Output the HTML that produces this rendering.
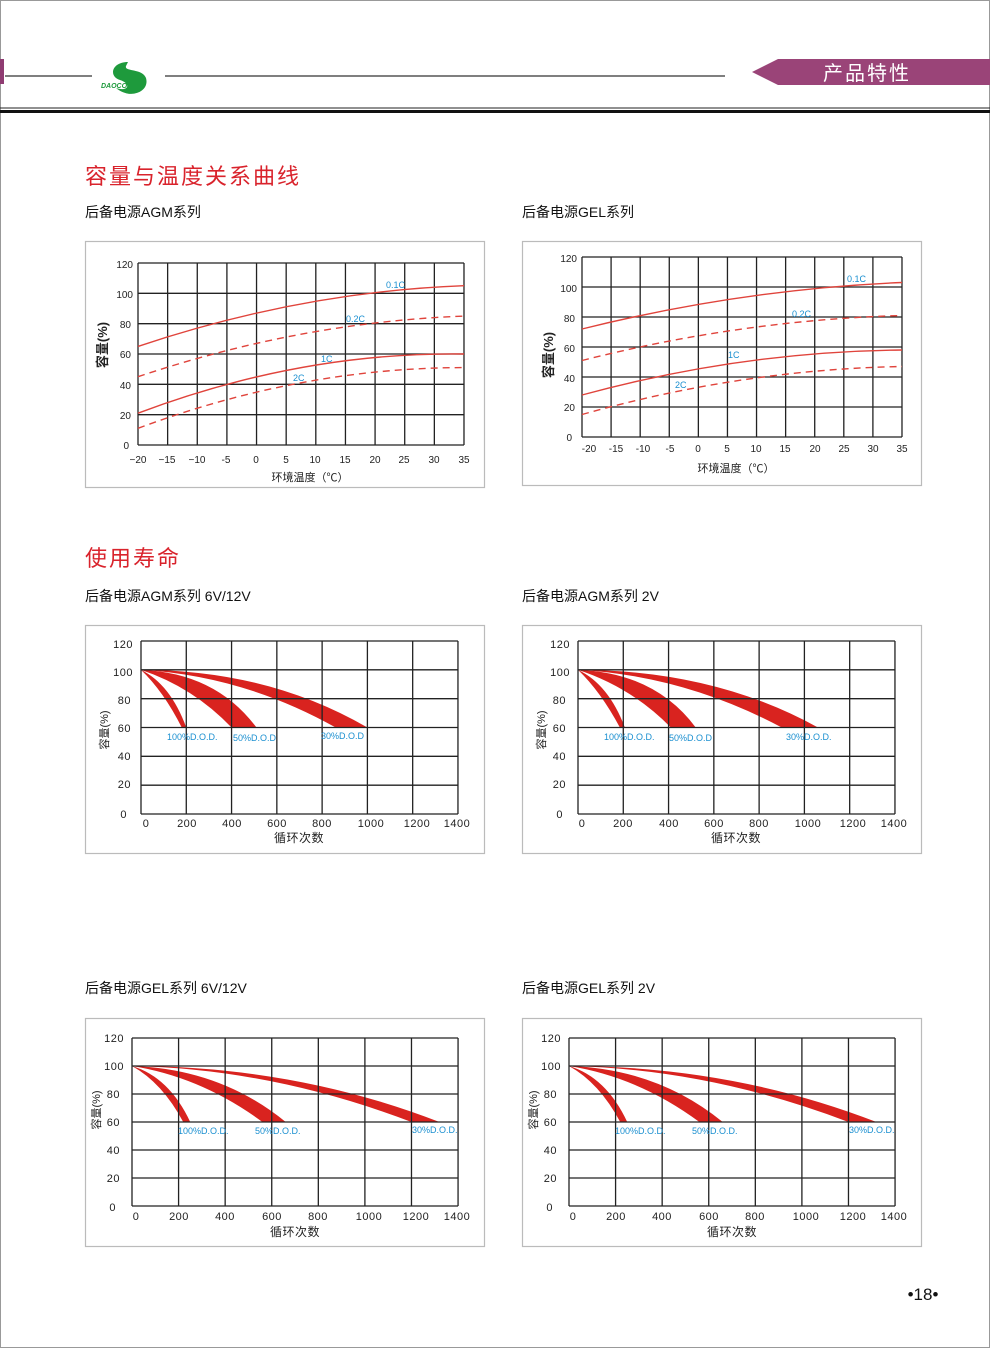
<!DOCTYPE html>
<html><head><meta charset="utf-8"><style>
html,body{margin:0;padding:0;background:#fff}
svg{display:block}
text{font-family:"Liberation Sans","Noto Sans CJK SC",sans-serif}
.t{font-size:10px;fill:#222}
.tl{font-size:11px;fill:#222;letter-spacing:0.5px}
.b{font-size:9px;fill:#1a8fd0}
.sub{font-size:14px;fill:#111}
.h{font-size:22px;fill:#d9232c;letter-spacing:2px}
.g{fill:none;stroke:#222;stroke-width:1.3}
.box{fill:#fff;stroke:#bbb;stroke-width:1.2}
.c{fill:none;stroke:#e0443c;stroke-width:1.4}
.d{fill:none;stroke:#e0443c;stroke-width:1.4;stroke-dasharray:7 5}
.band{fill:#d9231f}
</style></head><body>
<svg width="990" height="1348" viewBox="0 0 990 1348">
<!-- page border -->
<rect x="0.5" y="0.5" width="989" height="1347" fill="none" stroke="#999"/>
<!-- header -->
<rect x="0" y="59" width="4" height="25" fill="#8f3c72"/>
<line x1="5" y1="76" x2="92" y2="76" stroke="#333" stroke-width="1.2"/>
<path d="M128,62 C112,62 108,76 120,80 C132,84 128,92 116,88 C130,100 150,92 146,78 C142,68 124,72 126,66 Z" fill="#1e9a3c"/>
<text x="101" y="88" font-size="7" fill="#1e9a3c" font-style="italic" font-weight="bold">DAOCO</text>
<line x1="165" y1="76" x2="725" y2="76" stroke="#333" stroke-width="1.2"/>
<polygon points="752,72 778,59 990,59 990,85 778,85" fill="#9a4478"/>
<text x="823" y="80" font-size="20" fill="#fff" letter-spacing="2">产品特性</text>
<line x1="0" y1="108" x2="990" y2="108" stroke="#222" stroke-width="1"/>
<rect x="0" y="110" width="990" height="3" fill="#111"/>

<text x="85" y="184" class="h">容量与温度关系曲线</text>
<text x="85" y="217" class="sub">后备电源AGM系列</text>
<text x="522" y="217" class="sub">后备电源GEL系列</text>

<!-- Chart 1 -->
<rect x="85.5" y="241.5" width="399" height="246" class="box"/>
<g transform="translate(138,445) scale(5.927,-1.5167)">
<path class="g" vector-effect="non-scaling-stroke" d="M0,0V120M5,0V120M10,0V120M15,0V120M20,0V120M25,0V120M30,0V120M35,0V120M40,0V120M45,0V120M50,0V120M55,0V120M0,0H55M0,20H55M0,40H55M0,60H55M0,80H55M0,100H55M0,120H55"/>
</g>
<path class="c" d="M138,346.4 Q301,291.8 464,285.7"/>
<path class="d" d="M138,376.7 Q301,322.1 464,316.1"/>
<path class="c" d="M138,413.2 Q301,351.7 464,354"/>
<path class="d" d="M138,428.3 Q301,367.6 464,367.6"/>
<text x="386" y="288" class="b">0.1C</text>
<text x="346" y="322" class="b">0.2C</text>
<text x="321" y="362" class="b">1C</text>
<text x="293" y="381" class="b">2C</text>
<g class="t" text-anchor="end">
<text x="133" y="268">120</text><text x="133" y="298">100</text><text x="131" y="328">80</text><text x="131" y="358">60</text><text x="131" y="389">40</text><text x="131" y="419">20</text><text x="129" y="449">0</text>
</g>
<g class="t" text-anchor="middle">
<text x="138" y="463">−20</text><text x="167" y="463">−15</text><text x="197" y="463">−10</text><text x="226" y="463">-5</text><text x="256" y="463">0</text><text x="286" y="463">5</text><text x="315" y="463">10</text><text x="345" y="463">15</text><text x="375" y="463">20</text><text x="404" y="463">25</text><text x="434" y="463">30</text><text x="464" y="463">35</text>
<text x="310" y="481" font-size="11">环境温度（℃）</text>
</g>
<text transform="translate(107,345) rotate(-90)" text-anchor="middle" font-size="13" font-weight="bold" fill="#222">容量(%)</text>

<!-- Chart 2 -->
<rect x="522.5" y="241.5" width="399" height="244" class="box"/>
<g transform="translate(582,437) scale(5.818,-1.5)">
<path class="g" vector-effect="non-scaling-stroke" d="M0,0V120M5,0V120M10,0V120M15,0V120M20,0V120M25,0V120M30,0V120M35,0V120M40,0V120M45,0V120M50,0V120M55,0V120M0,0H55M0,20H55M0,40H55M0,60H55M0,80H55M0,100H55M0,120H55"/>
</g>
<path class="c" d="M582,329 Q742,289.25 902,282.5"/>
<path class="d" d="M582,360.5 Q742,320 902,315.5"/>
<path class="c" d="M582,395 Q742,351.5 902,350"/>
<path class="d" d="M582,414.5 Q742,369.5 902,366.5"/>
<text x="847" y="282" class="b">0.1C</text>
<text x="792" y="317" class="b">0.2C</text>
<text x="728" y="358" class="b">1C</text>
<text x="675" y="388" class="b">2C</text>
<g class="t" text-anchor="end">
<text x="577" y="262">120</text><text x="577" y="292">100</text><text x="575" y="322">80</text><text x="575" y="352">60</text><text x="575" y="382">40</text><text x="575" y="411">20</text><text x="572" y="441">0</text>
</g>
<g class="t" text-anchor="middle">
<text x="589" y="452">-20</text><text x="616" y="452">-15</text><text x="643" y="452">-10</text><text x="670" y="452">-5</text><text x="698" y="452">0</text><text x="727" y="452">5</text><text x="756" y="452">10</text><text x="785" y="452">15</text><text x="815" y="452">20</text><text x="844" y="452">25</text><text x="873" y="452">30</text><text x="902" y="452">35</text>
<text x="736" y="472" font-size="11">环境温度（℃）</text>
</g>
<text transform="translate(553,355) rotate(-90)" text-anchor="middle" font-size="13" font-weight="bold" fill="#222">容量(%)</text>

<text x="85" y="566" class="h">使用寿命</text>
<text x="85" y="601" class="sub">后备电源AGM系列 6V/12V</text>
<text x="522" y="601" class="sub">后备电源AGM系列  2V</text>

<!-- Life AGM 6/12 -->
<rect x="85.5" y="625.5" width="399" height="228" class="box"/>
<g transform="translate(141,814) scale(0.2264,-1.4417)">
<path class="band" d="M0,100 Q130,90 200,60 L180,60 Q100,85 0,100Z"/>
<path class="band" d="M0,100 Q330,98 510,60 L400,60 Q230,88 0,100Z"/>
<path class="band" d="M0,100 Q560,100 1000,60 L860,60 Q450,96 0,100Z"/>
<path class="g" vector-effect="non-scaling-stroke" d="M0,0V120M200,0V120M400,0V120M600,0V120M800,0V120M1000,0V120M1200,0V120M1400,0V120M0,0H1400M0,20H1400M0,40H1400M0,60H1400M0,80H1400M0,100H1400M0,120H1400"/>
</g>
<text x="167" y="740" class="b">100%D.O.D.</text>
<text x="233" y="741" class="b">50%D.O.D</text>
<text x="321" y="739" class="b">30%D.O.D</text>
<g class="tl" text-anchor="end">
<text x="133" y="648">120</text><text x="133" y="676">100</text><text x="131" y="704">80</text><text x="131" y="732">60</text><text x="131" y="760">40</text><text x="131" y="788">20</text><text x="127" y="818">0</text>
</g>
<g class="tl" text-anchor="middle">
<text x="146" y="827">0</text><text x="187" y="827">200</text><text x="232" y="827">400</text><text x="277" y="827">600</text><text x="322" y="827">800</text><text x="371" y="827">1000</text><text x="417" y="827">1200</text><text x="457" y="827">1400</text>
<text x="299" y="842" font-size="12">循环次数</text>
</g>
<text transform="translate(108,730) rotate(-90)" text-anchor="middle" font-size="11" fill="#222">容量(%)</text>

<!-- Life AGM 2V -->
<rect x="522.5" y="625.5" width="399" height="228" class="box"/>
<g transform="translate(578,814) scale(0.2264,-1.4417)">
<path class="band" d="M0,100 Q135,90 207,60 L185,60 Q100,85 0,100Z"/>
<path class="band" d="M0,100 Q340,98 520,60 L410,60 Q235,88 0,100Z"/>
<path class="band" d="M0,100 Q600,100 1060,60 L900,60 Q470,96 0,100Z"/>
<path class="g" vector-effect="non-scaling-stroke" d="M0,0V120M200,0V120M400,0V120M600,0V120M800,0V120M1000,0V120M1200,0V120M1400,0V120M0,0H1400M0,20H1400M0,40H1400M0,60H1400M0,80H1400M0,100H1400M0,120H1400"/>
</g>
<text x="604" y="740" class="b">100%D.O.D.</text>
<text x="669" y="741" class="b">50%D.O.D</text>
<text x="786" y="740" class="b" font-size="10">30%D.O.D.</text>
<g class="tl" text-anchor="end">
<text x="570" y="648">120</text><text x="570" y="676">100</text><text x="566" y="704">80</text><text x="566" y="732">60</text><text x="566" y="760">40</text><text x="566" y="788">20</text><text x="563" y="818">0</text>
</g>
<g class="tl" text-anchor="middle">
<text x="582" y="827">0</text><text x="623" y="827">200</text><text x="669" y="827">400</text><text x="714" y="827">600</text><text x="759" y="827">800</text><text x="808" y="827">1000</text><text x="853" y="827">1200</text><text x="894" y="827">1400</text>
<text x="736" y="842" font-size="12">循环次数</text>
</g>
<text transform="translate(545,730) rotate(-90)" text-anchor="middle" font-size="11" fill="#222">容量(%)</text>

<text x="85" y="993" class="sub">后备电源GEL系列  6V/12V</text>
<text x="522" y="993" class="sub">后备电源GEL系列  2V</text>

<!-- Life GEL 6/12 -->
<rect x="85.5" y="1018.5" width="399" height="228" class="box"/>
<g transform="translate(132,1206) scale(0.2329,-1.4)">
<path class="band" d="M0,100 Q160,92 250,60 L220,60 Q130,88 0,100Z"/>
<path class="band" d="M0,100 Q380,98 660,60 L560,60 Q300,92 0,100Z"/>
<path class="band" d="M0,100 Q700,100 1320,60 L1200,60 Q600,98 0,100Z"/>
<path class="g" vector-effect="non-scaling-stroke" d="M0,0V120M200,0V120M400,0V120M600,0V120M800,0V120M1000,0V120M1200,0V120M1400,0V120M0,0H1400M0,20H1400M0,40H1400M0,60H1400M0,80H1400M0,100H1400M0,120H1400"/>
</g>
<text x="178" y="1134" class="b">100%D.O.D.</text>
<text x="255" y="1134" class="b">50%D.O.D.</text>
<text x="412" y="1133" class="b">30%D.O.D.</text>
<g class="tl" text-anchor="end">
<text x="124" y="1042">120</text><text x="124" y="1070">100</text><text x="120" y="1098">80</text><text x="120" y="1126">60</text><text x="120" y="1154">40</text><text x="120" y="1182">20</text><text x="116" y="1211">0</text>
</g>
<g class="tl" text-anchor="middle">
<text x="136" y="1220">0</text><text x="179" y="1220">200</text><text x="225" y="1220">400</text><text x="272" y="1220">600</text><text x="318" y="1220">800</text><text x="369" y="1220">1000</text><text x="416" y="1220">1200</text><text x="457" y="1220">1400</text>
<text x="295" y="1236" font-size="12">循环次数</text>
</g>
<text transform="translate(100,1110) rotate(-90)" text-anchor="middle" font-size="11" fill="#222">容量(%)</text>

<!-- Life GEL 2V -->
<rect x="522.5" y="1018.5" width="399" height="228" class="box"/>
<g transform="translate(569,1206) scale(0.2329,-1.4)">
<path class="band" d="M0,100 Q160,92 250,60 L220,60 Q130,88 0,100Z"/>
<path class="band" d="M0,100 Q380,98 660,60 L560,60 Q300,92 0,100Z"/>
<path class="band" d="M0,100 Q700,100 1320,60 L1200,60 Q600,98 0,100Z"/>
<path class="g" vector-effect="non-scaling-stroke" d="M0,0V120M200,0V120M400,0V120M600,0V120M800,0V120M1000,0V120M1200,0V120M1400,0V120M0,0H1400M0,20H1400M0,40H1400M0,60H1400M0,80H1400M0,100H1400M0,120H1400"/>
</g>
<text x="615" y="1134" class="b">100%D.O.D.</text>
<text x="692" y="1134" class="b">50%D.O.D.</text>
<text x="849" y="1133" class="b">30%D.O.D.</text>
<g class="tl" text-anchor="end">
<text x="561" y="1042">120</text><text x="561" y="1070">100</text><text x="557" y="1098">80</text><text x="557" y="1126">60</text><text x="557" y="1154">40</text><text x="557" y="1182">20</text><text x="553" y="1211">0</text>
</g>
<g class="tl" text-anchor="middle">
<text x="573" y="1220">0</text><text x="616" y="1220">200</text><text x="662" y="1220">400</text><text x="709" y="1220">600</text><text x="755" y="1220">800</text><text x="806" y="1220">1000</text><text x="853" y="1220">1200</text><text x="894" y="1220">1400</text>
<text x="732" y="1236" font-size="12">循环次数</text>
</g>
<text transform="translate(537,1110) rotate(-90)" text-anchor="middle" font-size="11" fill="#222">容量(%)</text>

<text x="923" y="1300" text-anchor="middle" font-size="17" fill="#111">•18•</text>
</svg>
</body></html>
